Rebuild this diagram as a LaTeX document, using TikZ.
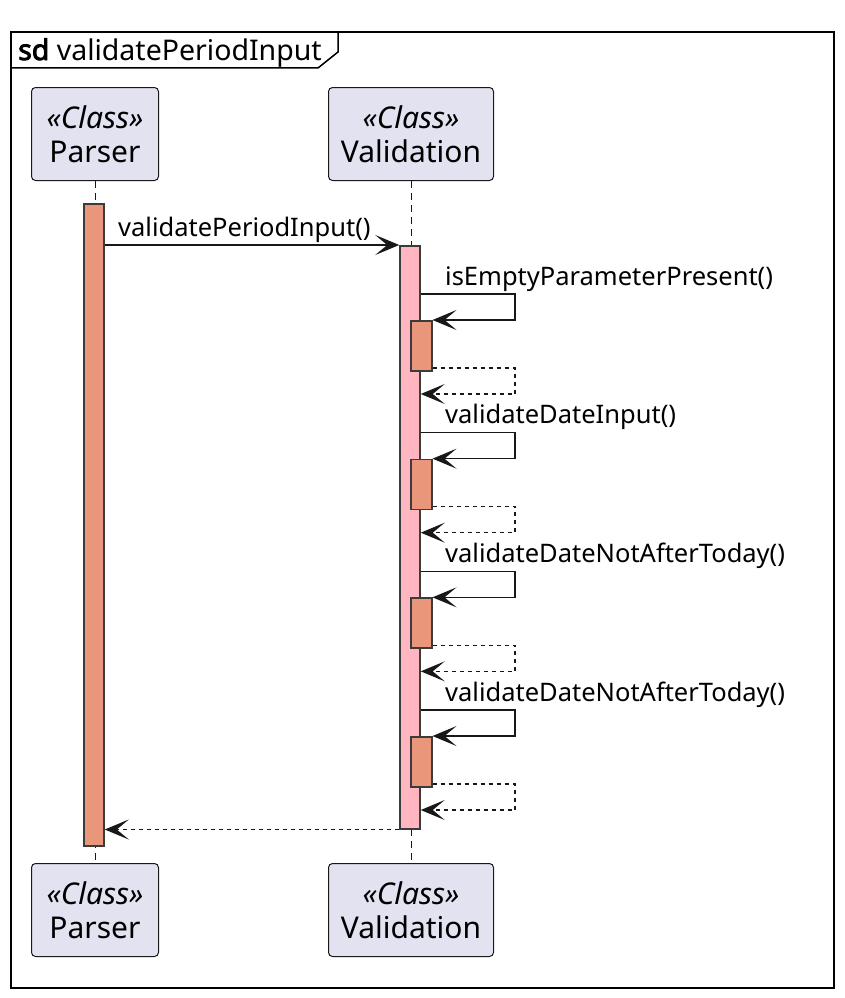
\documentclass[tikz,border=0pt]{standalone}
\usepackage{fontspec}
\setmainfont{Noto Sans}
\newfontfamily\sdfont{Noto Sans}[FakeBold=3]
\usetikzlibrary{arrows.meta}
\definecolor{partfill}{HTML}{E2E2F0}
\definecolor{ink}{HTML}{181818}
\definecolor{salmon}{HTML}{E9967A}
\definecolor{pinkact}{HTML}{FFB6C1}
\tikzset{
  part/.style={draw=ink, line width=1pt, fill=partfill, rounded corners=4pt,
    minimum width=#1, minimum height=93pt, inner sep=0pt, align=center,
    font=\fontsize{30}{34}\selectfont},
  life/.style={draw=ink, line width=1pt, dash pattern=on 7pt off 5pt},
  actbox/.style={draw=ink!85, line width=1.5pt, inner sep=0pt, minimum width=20pt},
  tip/.style={-{Stealth[length=24pt,width=20pt,inset=12pt]}},
  msg/.style={draw=ink, line width=1.5pt, tip},
  ret/.style={draw=ink, line width=1.5pt, dash pattern=on 4pt off 4pt, tip},
  lbl/.style={anchor=base west, inner sep=0pt, font=\fontsize{25.5}{30}\selectfont, text=black},
}
\begin{document}
\begin{tikzpicture}[x=1pt, y=-1pt]
\useasboundingbox (0,0) rectangle (844,998);

% outer frame and title tab
\draw[line width=2.5pt, draw=black] (11,32) rectangle (834,988);
\draw[line width=1.5pt, draw=black] (11,68) -- (318,68) -- (338,52) -- (338,32);
\node[anchor=base west, inner sep=0pt, font=\fontsize{28.5}{32}\selectfont] (title) at (18,60)
  {{\sdfont sd} validatePeriodInput};

% participants
\node[part=127pt, anchor=north west] (parserTop) at (31,87) {\textit{«Class»}\\Parser};
\node[part=165pt, anchor=north west] (valTop) at (328,87) {\textit{«Class»}\\Validation};
\node[part=127pt, anchor=north west] (parserBot) at (31,863) {\textit{«Class»}\\Parser};
\node[part=165pt, anchor=north west] (valBot) at (328,863) {\textit{«Class»}\\Validation};

% lifelines
\draw[life] (parserTop.south) -- (parserBot.north);
\draw[life] (valTop.south) -- (valBot.north);

% activations
\node[actbox, fill=salmon, anchor=north, minimum height=642pt] (pA) at (94,203) {};
\node[actbox, fill=pinkact, anchor=north, minimum height=583pt] (vA) at (410,245) {};

% call from Parser
\draw[msg] (vA.north west -| pA.east) -- (vA.north west);
\node[lbl] (m1) at (118,236) {validatePeriodInput()};

% self calls on Validation
\foreach \i/\lab in {0/isEmptyParameterPresent(),1/validateDateInput(),2/validateDateNotAfterToday(),3/validateDateNotAfterToday()}{
  \pgfmathsetmacro\yy{294+138.67*\i}
  \node[actbox, fill=salmon, anchor=north west, minimum width=21pt, minimum height=50pt] (sA\i) at (410,\yy+26) {};
  \node[lbl] (sL\i) at (445,\yy-9) {\lab};
  \coordinate (turnA\i) at (515,\yy);
  \coordinate (turnB\i) at (515,\yy+26);
  \coordinate (turnC\i) at (515,\yy+74);
  \coordinate (turnD\i) at (515,\yy+100);
  \draw[msg] (vA.east |- turnA\i) -- (turnA\i) -- (turnB\i) -- (sA\i.north east);
  \draw[ret] (sA\i.south east |- turnC\i) -- (turnC\i) -- (turnD\i) -- (vA.east |- turnD\i);
}

% return to Parser
\draw[ret] (vA.south west) -- (pA.east |- vA.south);
\end{tikzpicture}
\end{document}
